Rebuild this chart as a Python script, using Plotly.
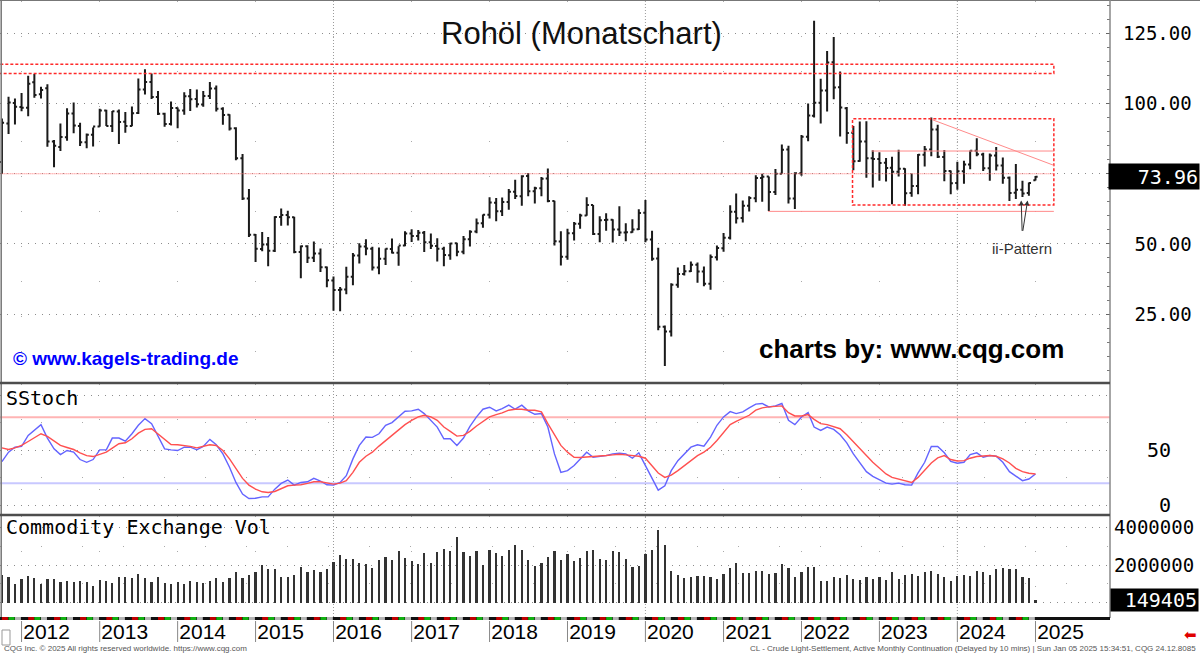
import pandas as pd
import plotly.graph_objects as go

# ---------------- data ----------------
START_MONTH = "2011-10-01"
N_MONTHS = 160  # Oct 2011 .. Jan 2025

OPEN = [79.2, 92.9, 100.2,
        98.8, 98.5, 107.6, 103.3, 105.5, 86.5, 84.5, 88.0, 96.5, 92.0, 86.2, 88.9,
        91.8, 97.5, 92.0, 97.2, 93.5, 92.0, 96.6, 105.0, 107.7, 102.3, 96.4, 92.7,
        98.4, 97.5, 102.6, 101.6, 99.7, 102.7, 105.4, 98.2, 96.0, 91.2, 80.5, 66.2,
        53.3, 48.2, 49.8, 47.6, 59.6, 60.3, 59.5, 47.1, 49.2, 45.1, 46.6, 41.7,
        37.0, 33.6, 33.8, 38.3, 45.9, 49.1, 48.3, 41.6, 44.7, 48.2, 46.9, 49.4,
        53.7, 52.8, 54.0, 50.6, 49.3, 48.3, 46.0, 50.2, 47.2, 51.7, 54.4, 57.4,
        60.4, 64.7, 61.6, 64.9, 68.6, 67.0, 74.2, 68.8, 69.8, 73.3, 65.3, 50.9,
        45.4, 53.8, 57.2, 60.1, 63.9, 53.5, 58.5, 58.6, 55.1, 54.1, 54.2, 55.2,
        61.1, 51.6, 44.8, 20.5, 18.8, 35.5, 39.3, 40.3, 42.6, 40.2, 35.8, 45.3,
        48.5, 52.2, 61.5, 59.2, 63.6, 66.3, 73.5, 74.0, 68.5, 75.0, 83.6, 66.2,
        75.2, 88.2, 95.7, 100.3, 104.7, 114.7, 105.8, 98.3, 89.6, 79.5, 86.5, 80.5,
        80.3, 78.9, 77.1, 75.7, 76.8, 68.1, 70.6, 81.8, 83.6, 90.8, 81.0, 76.0,
        71.7, 75.9, 78.3, 83.2, 81.9, 77.0, 81.5, 77.9, 73.6, 68.2, 69.3, 68.1,
        72.7]
HIGH = [94.65, 102.44, 101.8,
        103.74, 109.95, 110.55, 106.0, 106.9, 87.0, 92.9, 98.29, 100.42, 93.2, 89.3, 91.5,
        98.2, 97.8, 97.35, 97.9, 97.0, 99.0, 108.9, 112.24, 110.74, 104.5, 96.7, 100.75,
        98.6, 104.0, 105.2, 104.99, 104.5, 107.68, 106.4, 98.7, 96.2, 91.6, 82.0, 69.6,
        53.5, 54.24, 52.48, 59.9, 62.58, 61.78, 59.7, 49.4, 49.5, 50.9, 48.4, 42.0,
        38.4, 34.69, 41.9, 46.78, 50.21, 51.67, 49.0, 48.75, 48.35, 51.93, 49.2, 54.51,
        55.24, 54.94, 54.6, 53.76, 52.0, 49.0, 50.43, 50.43, 52.86, 54.91, 59.05, 60.51,
        66.66, 66.4, 66.55, 69.56, 72.9, 74.46, 75.27, 70.4, 73.8, 76.9, 65.4, 54.55,
        55.37, 57.81, 60.73, 66.6, 63.9, 59.9, 60.94, 58.8, 63.38, 57.4, 58.76, 62.34,
        65.65, 54.66, 48.66, 20.9, 35.98, 41.63, 42.52, 43.78, 43.43, 41.97, 46.26, 49.43,
        53.93, 63.81, 67.98, 65.47, 67.0, 74.45, 75.0, 74.0, 76.67, 85.41, 84.97, 75.5,
        88.84, 100.0, 129.5, 108.82, 118.7, 123.68, 111.45, 98.8, 92.0, 93.64, 93.74, 83.34,
        82.66, 80.62, 81.04, 83.53, 77.0, 75.06, 82.0, 84.89, 95.03, 92.5, 83.5, 76.2,
        79.29, 79.62, 83.3, 87.67, 82.5, 82.2, 84.52, 80.78, 74.0, 78.46, 72.5, 71.9,
        74.2]
LOW = [74.95, 89.17, 92.52,
       97.3, 95.44, 102.05, 101.8, 84.61, 77.28, 83.1, 86.8, 89.4, 84.9, 84.05, 84.7,
       91.7, 92.0, 89.9, 85.6, 89.6, 91.9, 96.3, 103.2, 101.6, 95.97, 91.77, 92.2,
       91.24, 96.0, 97.37, 98.64, 98.9, 101.6, 97.17, 92.5, 90.43, 79.78, 65.69, 52.44,
       43.58, 47.36, 42.03, 47.1, 56.51, 56.6, 46.68, 37.75, 43.22, 43.6, 40.0, 34.53,
       26.19, 26.05, 32.1, 35.24, 43.03, 46.0, 40.57, 39.19, 42.52, 46.63, 42.2, 49.2,
       50.71, 51.2, 47.09, 48.18, 43.76, 42.05, 44.4, 45.58, 46.3, 49.1, 53.84, 55.8,
       59.1, 58.07, 59.95, 62.2, 66.0, 63.59, 67.03, 64.43, 67.0, 64.86, 49.41, 42.36,
       44.35, 51.23, 55.38, 60.0, 53.15, 50.6, 54.7, 50.52, 52.8, 50.99, 54.0, 55.0,
       50.58, 44.0, 19.27, 6.5, 17.0, 34.36, 38.72, 40.0, 36.13, 34.92, 33.64, 44.13,
       47.18, 51.62, 57.25, 57.63, 61.56, 64.87, 65.01, 61.74, 67.4, 74.96, 64.43, 62.43,
       74.27, 86.55, 95.0, 92.93, 97.2, 101.5, 88.23, 85.73, 76.25, 79.32, 73.6, 70.08,
       72.5, 72.25, 64.12, 74.0, 63.57, 66.8, 67.7, 77.6, 81.2, 80.6, 72.37, 67.71,
       69.28, 71.4, 76.6, 81.2, 76.0, 72.48, 76.2, 71.46, 65.27, 66.0, 66.7, 67.2,
       72.6]
CLOSE = [93.19, 100.36, 98.83,
         98.48, 107.07, 103.02, 104.87, 86.53, 84.96, 88.06, 96.47, 92.19, 86.24, 88.91, 91.82,
         97.49, 92.05, 97.23, 93.46, 91.97, 96.56, 105.03, 107.65, 102.33, 96.38, 92.72, 98.42,
         97.49, 102.59, 101.58, 99.74, 102.71, 105.37, 98.17, 95.96, 91.16, 80.54, 66.15, 53.27,
         48.24, 49.76, 47.6, 59.63, 60.3, 59.47, 47.12, 49.2, 45.09, 46.59, 41.65, 37.04,
         33.62, 33.75, 38.34, 45.92, 49.1, 48.33, 41.6, 44.7, 48.24, 46.86, 49.44, 53.72,
         52.81, 54.01, 50.6, 49.33, 48.32, 46.04, 50.17, 47.23, 51.67, 54.38, 57.4, 60.42,
         64.73, 61.64, 64.94, 68.57, 67.04, 74.15, 68.76, 69.8, 73.25, 65.31, 50.93, 45.41,
         53.79, 57.22, 60.14, 63.91, 53.5, 58.47, 58.58, 55.1, 54.07, 54.18, 55.17, 61.06,
         51.56, 44.76, 20.48, 18.84, 35.49, 39.27, 40.27, 42.61, 40.22, 35.79, 45.34, 48.52,
         52.2, 61.5, 59.16, 63.58, 66.32, 73.47, 73.95, 68.5, 75.03, 83.57, 66.18, 75.21,
         88.15, 95.72, 100.28, 104.69, 114.67, 105.76, 98.62, 89.55, 79.49, 86.53, 80.55, 80.26,
         78.87, 77.05, 75.67, 76.78, 68.09, 70.64, 81.8, 83.63, 90.79, 81.02, 75.96, 71.65,
         75.85, 78.26, 83.17, 81.93, 76.99, 81.54, 77.91, 73.55, 68.17, 69.26, 68.0, 71.72,
         73.96]

# SStoch (fast = blue, slow = red)
SSTOCH_K = [39.6, 48.2, 52.7, 53.4, 63.4, 68.0, 73.2, 61.0, 51.2, 46.0, 49.7, 48.2,
            41.5, 39.0, 41.5, 50.3, 50.3, 61.0, 61.0, 58.2, 64.9, 72.6, 78.7, 74.1,
            63.4, 51.2, 50.3, 49.7, 52.7, 52.7, 50.3, 53.4, 59.8, 54.9, 46.6, 34.5,
            20.7, 10.1, 6.1, 6.4, 7.6, 7.6, 14.6, 19.8, 22.9, 18.3, 20.7, 21.3,
            24.4, 22.0, 18.6, 18.3, 20.7, 26.8, 42.1, 54.3, 62.0, 61.6, 64.9, 72.6,
            75.0, 80.2, 85.4, 85.7, 87.2, 83.2, 77.1, 71.0, 60.4, 60.4, 54.3, 61.0,
            71.6, 80.2, 87.2, 89.0, 85.7, 87.8, 90.9, 87.2, 90.9, 85.7, 82.6, 83.2,
            71.0, 46.6, 29.9, 31.4, 36.0, 41.5, 48.2, 43.6, 44.2, 45.1, 46.6, 47.3,
            46.6, 42.7, 47.6, 36.0, 23.8, 13.7, 17.7, 31.4, 40.5, 46.6, 52.7, 54.9,
            53.7, 61.9, 72.6, 80.2, 85.0, 83.2, 84.8, 88.4, 91.8, 92.4, 89.3, 90.2,
            92.4, 77.1, 73.2, 80.2, 84.1, 71.0, 68.0, 71.0, 68.9, 64.0, 56.7, 46.6,
            38.4, 30.5, 26.2, 23.2, 20.1, 19.2, 20.1, 18.6, 18.3, 29.3, 39.0, 53.4,
            53.4, 47.6, 39.9, 38.1, 39.0, 46.0, 47.6, 43.6, 45.1, 44.5, 39.0, 30.5,
            26.8, 22.3, 23.8, 28.4]
SSTOCH_D = [52.1, 50.6, 52.1, 54.3, 57.9, 61.3, 64.9, 62.5, 57.9, 54.3, 52.4, 50.6,
            47.6, 45.1, 44.2, 46.0, 48.2, 51.8, 55.8, 56.7, 60.4, 65.5, 68.9, 69.5,
            64.9, 59.5, 55.2, 54.9, 54.3, 53.4, 52.1, 53.4, 54.9, 54.3, 49.7, 42.1,
            32.9, 24.4, 18.3, 14.6, 12.2, 11.6, 12.5, 15.2, 17.7, 18.3, 18.6, 19.8,
            21.3, 21.3, 20.1, 19.2, 20.1, 22.3, 29.9, 39.0, 44.5, 48.2, 53.7, 58.8,
            64.0, 68.9, 73.2, 77.1, 80.2, 81.7, 80.2, 77.1, 71.0, 67.1, 62.8, 63.4,
            67.1, 72.0, 76.2, 80.2, 82.3, 83.8, 86.3, 87.2, 87.2, 86.3, 86.3, 84.8,
            74.1, 64.0, 54.3, 48.2, 43.6, 43.3, 43.6, 44.2, 44.5, 45.1, 45.7, 46.3,
            45.7, 45.1, 44.5, 42.7, 36.0, 29.3, 25.3, 27.4, 31.4, 36.0, 40.5, 45.1,
            48.2, 52.7, 58.8, 66.5, 73.2, 76.2, 79.3, 81.7, 86.3, 88.4, 89.3, 89.9,
            90.2, 84.1, 81.1, 81.1, 82.3, 78.0, 74.1, 73.2, 71.6, 69.5, 64.0, 57.9,
            51.2, 45.1, 39.0, 33.5, 28.4, 25.3, 23.8, 22.3, 20.7, 25.3, 31.4, 38.4,
            43.0, 45.1, 41.5, 40.2, 40.5, 42.7, 44.2, 44.5, 45.1, 44.5, 42.1, 38.4,
            33.5, 30.5, 29.0, 28.4]
STOCH_UPPER = 80
STOCH_LOWER = 20

# Commodity exchange volume (contracts)
VOLUME = [1480000, 1350000, 1000000, 1260000, 1440000, 1330000, 980000, 1240000,
          1240000, 1080000, 1170000, 1080000, 1160000, 1080000, 870000, 1190000,
          1160000, 1030000, 1350000, 1390000, 1330000, 1510000, 1300000, 1100000,
          1370000, 1070000, 980000, 1080000, 1000000, 1160000, 1120000, 1070000,
          1140000, 1300000, 1080000, 1300000, 1620000, 1300000, 1480000, 1650000,
          1990000, 1780000, 1780000, 1350000, 1350000, 1480000, 1880000, 1650000,
          1720000, 1620000, 1810000, 2170000, 2540000, 2310000, 2350000, 2120000,
          2050000, 1870000, 2280000, 2420000, 2280000, 2740000, 2380000, 2240000,
          2040000, 2630000, 2100000, 2680000, 2860000, 2770000, 3480000, 2680000,
          2470000, 2760000, 1990000, 2830000, 2650000, 2510000, 2790000, 3060000,
          2830000, 2280000, 1970000, 2100000, 2440000, 2740000, 2280000, 2580000,
          2240000, 2380000, 2770000, 2830000, 2350000, 2290000, 2760000, 2680000,
          2330000, 1900000, 1960000, 2580000, 2790000, 3860000, 3060000, 1690000,
          1480000, 1320000, 1350000, 1400000, 1400000, 1370000, 1240000, 1550000,
          1870000, 2100000, 1560000, 1560000, 1690000, 1690000, 1550000, 1580000,
          2060000, 1830000, 1390000, 1650000, 1880000, 1880000, 1170000, 1140000,
          1350000, 1320000, 1480000, 1240000, 1210000, 1370000, 1260000, 1370000,
          1210000, 1650000, 1280000, 1460000, 1530000, 1400000, 1620000, 1670000,
          1550000, 1370000, 1140000, 1420000, 1460000, 1420000, 1690000, 1620000,
          1490000, 1800000, 1870000, 1780000, 1780000, 1390000, 1330000, 149405]

YEARS = list(range(2012, 2026))
PRICE_TICKS = [25, 50, 75, 100, 125]
STOCH_TICKS = [0, 50, 100]
STOCH_LABELS = ["0", "50", ""]
VOL_TICKS = [0, 2000000, 4000000]
VOL_LABELS = ["", "2000000", "4000000"]
LAST_PRICE = 73.96
LAST_VOLUME = 149405

# analyst drawings on the price panel
RESIST_BAND = ("2011-01-01", "2025-03-28", 110.7, 114.0)
RANGE_BOX = ("2022-08-28", "2025-03-28", 63.9, 94.6)
LEVEL_75 = ("2011-01-01", "2025-03-28", 75.0)
LEVEL_LOW = ("2021-07-29", "2025-03-28", 61.6)
LEVEL_MID = ("2022-11-25", "2025-03-28", 83.1)
TRENDLINE = ("2023-09-04", 94.3, "2025-03-28", 78.0)
II_ARROW_TIPS = ["2024-10-26", "2024-11-25"]
II_TIP_PRICE = 65.5

# ---------------- figure ----------------
W, H = 1200, 654
months = pd.date_range(START_MONTH, periods=N_MONTHS, freq="MS")
X_RANGE = ["2011-09-22", "2025-12-16"]
XR = 1110 / W  # right end of plotting area


def py(p):  # pixel row -> paper y
    return 1 - p / H


MONO = "DejaVu Sans Mono"
SANS = "Arial, Liberation Sans, sans-serif"

fig = go.Figure()

fig.add_trace(go.Ohlc(
    x=months, open=OPEN, high=HIGH, low=LOW, close=CLOSE,
    increasing=dict(line=dict(color="#1a1a1a", width=2)),
    decreasing=dict(line=dict(color="#1a1a1a", width=2)),
    tickwidth=0.36, xaxis="x", yaxis="y", hoverinfo="skip", showlegend=False))

fig.add_trace(go.Scatter(x=months, y=SSTOCH_K, mode="lines", yaxis="y2",
                         line=dict(color="#6464ff", width=1.4), showlegend=False))
fig.add_trace(go.Scatter(x=months, y=SSTOCH_D, mode="lines", yaxis="y2",
                         line=dict(color="#ff5050", width=1.4), showlegend=False))

fig.add_trace(go.Bar(x=months, y=VOLUME, yaxis="y3", width=9.0e8,
                     marker=dict(color="#333333", line=dict(width=0)), showlegend=False))

shapes = []
# stoch level lines
for lvl, col in [(STOCH_UPPER, "#ffb4b4"), (STOCH_LOWER, "#c8c8ff")]:
    shapes.append(dict(type="line", xref="paper", yref="y2", x0=0, x1=XR, y0=lvl, y1=lvl,
                       line=dict(color=col, width=2), layer="below"))

# dense vertical dotted lines every 4 years
for yr in [2016, 2020, 2024]:
    shapes.append(dict(type="line", xref="x", yref="paper", x0=f"{yr}-01-01", x1=f"{yr}-01-01",
                       y0=py(617), y1=py(1), line=dict(color="#9a9a9a", width=1, dash="1px,2px"),
                       layer="below"))

# analyst drawings
red = "#ff2a2a"
lred = "#ff8a8a"
x0, x1, y0, y1 = RESIST_BAND
shapes.append(dict(type="rect", xref="x", yref="y", x0=x0, x1=x1, y0=y0, y1=y1,
                   line=dict(color=red, width=1.5, dash="3px,2px")))
x0, x1, y0, y1 = RANGE_BOX
shapes.append(dict(type="rect", xref="x", yref="y", x0=x0, x1=x1, y0=y0, y1=y1,
                   line=dict(color=red, width=1.5, dash="3px,2px")))
x0, x1, lv = LEVEL_75
shapes.append(dict(type="line", xref="x", yref="y", x0=x0, x1=x1, y0=lv, y1=lv,
                   line=dict(color="#ff6e6e", width=1, dash="1px,1px")))
for x0, x1, lv in [LEVEL_LOW, LEVEL_MID]:
    shapes.append(dict(type="line", xref="x", yref="y", x0=x0, x1=x1, y0=lv, y1=lv,
                       line=dict(color=lred, width=1)))
tx0, ty0, tx1, ty1 = TRENDLINE
shapes.append(dict(type="line", xref="x", yref="y", x0=tx0, x1=tx1, y0=ty0, y1=ty1,
                   line=dict(color=lred, width=1)))

# panel frame
frame = "#4d4d4d"
shapes += [
    dict(type="line", xref="paper", yref="paper", x0=0, x1=1, y0=py(0.5), y1=py(0.5),
         line=dict(color="#777", width=1)),
    dict(type="line", xref="paper", yref="paper", x0=0.001, x1=0.001, y0=py(0), y1=py(617),
         line=dict(color="#777", width=1.5)),
    dict(type="line", xref="paper", yref="paper", x0=XR, x1=XR, y0=py(0), y1=py(618),
         line=dict(color="#888", width=1.5)),
    dict(type="line", xref="paper", yref="paper", x0=0, x1=XR, y0=py(383), y1=py(383),
         line=dict(color=frame, width=2.5)),
    dict(type="line", xref="paper", yref="paper", x0=0, x1=XR, y0=py(515), y1=py(515),
         line=dict(color=frame, width=2.5)),
    dict(type="line", xref="paper", yref="paper", x0=0, x1=XR, y0=py(618.5), y1=py(618.5),
         line=dict(color="#111", width=3)),
]
# month colour band under the volume panel
band_cols = ["#111111", "#c00000", "#10b010", "#b4b4b4"]
for i, m in enumerate(months):
    c = band_cols[(m.month - 1) % 4]
    shapes.append(dict(type="line", xref="x", yref="paper", x0=m, x1=m + pd.Timedelta(days=28),
                       y0=py(618.5), y1=py(618.5), line=dict(color=c, width=3)))
# year tick lines below the axis
for yr in YEARS:
    shapes.append(dict(type="line", xref="x", yref="paper", x0=f"{yr}-01-01", x1=f"{yr}-01-01",
                       y0=py(621), y1=py(642), line=dict(color="#888", width=1)))
# small box bottom-left
shapes.append(dict(type="rect", xref="paper", yref="paper", x0=2 / W, x1=10 / W,
                   y0=py(645), y1=py(630), line=dict(color="#999", width=1)))


def note(text, px, pyy, size, color="#000", family=SANS, xanchor="center"):
    return dict(text=text, x=px / W, y=py(pyy), xref="paper", yref="paper",
                xanchor=xanchor, yanchor="middle", showarrow=False,
                font=dict(family=family, size=size, color=color))


annotations = [
    note("Rohöl (Monatschart)", 581, 34, 31, "#111"),
    note("<b>charts by: www.cqg.com</b>", 911, 349, 26),
    note("<b>© www.kagels-trading.de</b>", 126, 358, 19, "#0000ff"),
    note("SStoch", 4, 398, 20, family=MONO, xanchor="left"),
    note("Commodity Exchange Vol", 4, 527, 20, family=MONO, xanchor="left"),
    note("ii-Pattern", 1022, 248, 15, "#333"),
    note("CQG Inc. © 2025 All rights reserved worldwide. https://www.cqg.com", 2, 648, 8,
         "#555", xanchor="left"),
    note("CL - Crude Light-Settlement, Active Monthly Continuation (Delayed by 10 mins) | "
         "Sun Jan 05 2025 15:34:51, CQG 24.12.8085", 1198, 648, 8, "#555", xanchor="right"),
    note("⬅", 1190, 635, 15, "#e00000", family="DejaVu Sans"),
    dict(text=f"{LAST_PRICE:.2f}".rjust(6, "\u00a0"), x=1.0, y=LAST_PRICE, xref="paper", yref="y",
         xanchor="right", yanchor="middle", align="right", showarrow=False, bgcolor="#000",
         width=88, height=23, font=dict(family=MONO, size=20, color="#fff")),
    dict(text=f"{LAST_VOLUME}", x=XR, y=LAST_VOLUME, xref="paper", yref="y3",
         xanchor="left", yanchor="middle", align="right", showarrow=False, bgcolor="#000",
         width=85, height=20, font=dict(family=MONO, size=20, color="#fff")),
]
for tip, axp in zip(II_ARROW_TIPS, [1, -5]):
    annotations.append(dict(text="", x=tip, y=II_TIP_PRICE, xref="x", yref="y",
                            showarrow=True, ax=axp, ay=32, arrowhead=2, arrowsize=1,
                            arrowwidth=1, arrowcolor="#333", standoff=0))

price_labels = [f"{v:.2f}".rjust(6, "\u00a0") for v in PRICE_TICKS]
stoch_labels = [s.rjust(2, "\u00a0") for s in STOCH_LABELS]

fig.update_layout(
    width=W, height=H, margin=dict(l=0, r=0, t=0, b=0, pad=0, autoexpand=False),
    paper_bgcolor="#fff", plot_bgcolor="#fff", showlegend=False, bargap=0,
    hovermode=False,
    xaxis=dict(type="date", domain=[0, XR], range=X_RANGE, anchor="y3", automargin=False,
               rangeslider=dict(visible=False),
               tickvals=[f"{y}-01-01" for y in YEARS], ticktext=[str(y) for y in YEARS],
               ticks="", ticklabelshift=25, ticklabelstandoff=0,
               tickfont=dict(family=SANS, size=21, color="#000"),
               showgrid=True, gridcolor="#aaaaaa", griddash="1px,34px", gridwidth=1,
               showline=False, zeroline=False),
    yaxis=dict(domain=[py(383), py(1)], range=[0.46, 136.54], side="right", anchor="x",
               automargin=False,
               tickvals=PRICE_TICKS, ticktext=price_labels, ticks="inside", ticklen=4,
               tickcolor="#666", ticklabelstandoff=12,
               tickfont=dict(family=MONO, size=19, color="#000"),
               showgrid=True, gridcolor="#8c8c8c", griddash="1px,6px",
               minor=dict(dtick=5, ticks="inside", ticklen=3, tickcolor="#777", showgrid=False),
               zeroline=False, showline=False),
    yaxis2=dict(domain=[py(514), py(384)], range=[-7.96, 110.1], side="right", anchor="x",
                automargin=False,
                tickvals=STOCH_TICKS, ticktext=stoch_labels, ticks="",
                ticklabelstandoff=36, tickfont=dict(family=MONO, size=20, color="#000"),
                showgrid=True, gridcolor="#8c8c8c", griddash="1px,6px",
                minor=dict(tickvals=[25, 75], showgrid=True, gridcolor="#aaaaaa",
                           griddash="1px,40px"),
                zeroline=False, showline=False),
    yaxis3=dict(domain=[py(617), py(516)], range=[-763000, 4624000], side="right", anchor="x",
                automargin=False,
                tickvals=VOL_TICKS, ticktext=VOL_LABELS, ticks="",
                ticklabelstandoff=3, tickfont=dict(family=MONO, size=19, color="#000"),
                showgrid=True, gridcolor="#8c8c8c", griddash="1px,6px",
                minor=dict(tickvals=[1000000, 3000000], showgrid=True, gridcolor="#aaaaaa",
                           griddash="1px,40px"),
                zeroline=False, showline=False),
    shapes=shapes, annotations=annotations,
)

fig.write_html("out.html", config={"displayModeBar": False},
               post_script="document.body.style.margin='0';document.body.style.padding='0';")
